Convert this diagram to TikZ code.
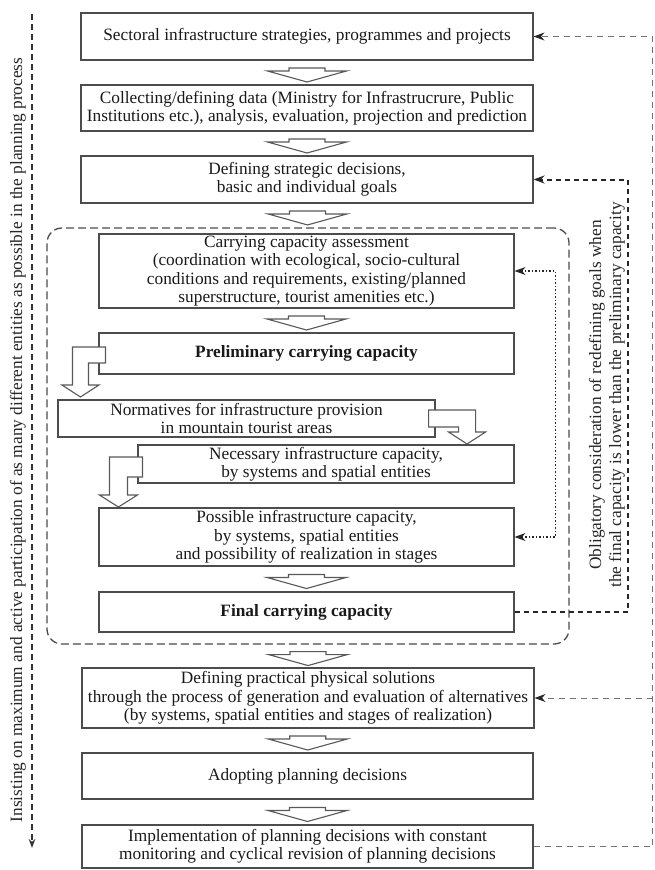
\documentclass[tikz,border=0pt]{standalone}
\usepackage{fontspec}
\setmainfont{Liberation Serif}
\usepackage{tikz}
\usetikzlibrary{positioning,arrows.meta,calc}

\newcommand{\boxfont}{\fontsize{17.3pt}{18.3pt}\selectfont}
\newcommand{\sidefont}{\fontsize{17.3pt}{20pt}\selectfont}

\begin{document}
\begin{tikzpicture}[
    x=1pt,
    y=-1pt,
    >={Stealth[length=11pt,width=8pt,black!85]},
    font=\boxfont,
    pics/downarrow/.style={code={
        \draw[line width=1.1pt, draw=black!65, fill=white, line join=miter]
            (-18,-4.5) -- (18,-4.5) -- (18,-1.5) -- (39.5,-1.5) -- (0,9.5)
            -- (-39.5,-1.5) -- (-18,-1.5) -- cycle;
    }}
]

\tikzstyle{stage}=[
    rectangle,
    draw=black!70,
    line width=1.1pt,
    text=black!90,
    inner sep=0pt,
    align=center,
    minimum width=452pt
]
\tikzstyle{substage}=[stage, minimum width=415pt]
\tikzstyle{elbow}=[draw=black!65, line width=1.1pt, fill=white, line join=miter]
\tikzstyle{zonebox}=[rectangle, draw=black!70, line width=1.3pt, dash pattern=on 8pt off 4pt, rounded corners=15pt, minimum width=522pt, minimum height=416pt]
\tikzstyle{outerfb}=[draw=black!55, line width=1pt, dash pattern=on 6pt off 5pt]
\tikzstyle{thickfb}=[draw=black!85, line width=2pt, dash pattern=on 5pt off 4pt]
\tikzstyle{dotfb}=[draw=black!85, line width=1.2pt, dash pattern=on 1.5pt off 2pt]
\tikzstyle{leftfb}=[draw=black!80, line width=1.2pt, dash pattern=on 6pt off 4pt]

\useasboundingbox (0,0) rectangle (655,870);

\node[zonebox] (zone) at (308,436) {};

\node[stage, minimum height=47pt] (sect) at (307,36.5) {Sectoral infrastructure strategies, programmes and projects};
\node[stage, minimum height=46pt] (coll) at (307,108) {Collecting/defining data (Ministry for Infrastrucrure, Public\\Institutions etc.), analysis, evaluation, projection and prediction};
\node[stage, minimum height=47pt] (strat) at (307,179.5) {Defining strategic decisions,\\basic and individual goals};

\node[substage, minimum height=74pt] (carry) at (306.5,271) {Carrying capacity assessment\\(coordination with ecological, socio-cultural\\conditions and requirements, existing/planned\\superstructure, tourist amenities etc.)};
\node[substage, minimum height=41pt] (prelim) at (306.5,353.5) {\textbf{Preliminary carrying capacity}};
\node[stage, minimum width=377pt, minimum height=37pt] (norm) at (246.5,418.5) {Normatives for infrastructure provision\\in mountain tourist areas};
\node[stage, minimum width=376pt, minimum height=38pt] (need) at (326,464) {Necessary infrastructure capacity,\\by systems and spatial entities};
\node[substage, minimum height=58pt] (poss) at (306.5,537) {Possible infrastructure capacity,\\by systems, spatial entities\\and possibility of realization in stages};
\node[substage, minimum height=40pt] (final) at (306.5,612) {\textbf{Final carrying capacity}};

\node[stage, minimum height=60pt] (prac) at (308,698) {Defining practical physical solutions\\through the process of generation and evaluation of alternatives\\(by systems, spatial entities and stages of realization)};
\node[stage, minimum width=451pt, minimum height=46pt] (adopt) at (307.5,776) {Adopting planning decisions};
\node[stage, minimum width=451pt, minimum height=43pt] (impl) at (307.5,846.5) {Implementation of planning decisions with constant\\monitoring and cyclical revision of planning decisions};

\pic at ($(sect.south)!0.5!(coll.north)$) {downarrow};
\pic at ($(coll.south)!0.5!(strat.north)$) {downarrow};
\pic at ($(strat.south)!0.5!(zone.north)$) {downarrow};
\pic at ($(carry.south)!0.5!(prelim.north)$) {downarrow};
\pic at ($(poss.south)!0.5!(final.north)$) {downarrow};
\pic at ($(zone.south)!0.5!(prac.north)$) {downarrow};
\pic at ($(prac.south)!0.5!(adopt.north)$) {downarrow};
\pic at ($(adopt.south)!0.5!(impl.north)$) {downarrow};

\draw[elbow, shift={(prelim.west)}] (7,-6.5) -- (-26,-6.5) -- (-26,31.5) -- (-36.5,31.5) -- (-18,43.5) -- (0.5,31.5) -- (-10,31.5) -- (-10,9.5) -- (7,9.5) -- cycle;
\draw[elbow, shift={(norm.east)}] (-7,-8.5) -- (40,-8.5) -- (40,13.5) -- (50,13.5) -- (31.5,25.5) -- (13,13.5) -- (23,13.5) -- (23,8.5) -- (-7,8.5) -- cycle;
\draw[elbow, shift={(need.west)}] (5,-7) -- (-28,-7) -- (-28,31) -- (-38,31) -- (-19,43) -- (0,31) -- (-10,31) -- (-10,13) -- (5,13) -- cycle;

\coordinate (rail) at ($(impl.east)+(119,0)$);
\draw[outerfb,->] (impl.east) -- (rail) |- (sect.east);
\draw[outerfb,->] (rail |- prac.east) -- (prac.east);
\draw[thickfb,->] (final.east) -- ++(113,0) |- (strat.east);
\draw[dotfb,<->] (carry.east) -- ++(41,0) |- (poss.east);

\coordinate (ltop) at (32,14);
\coordinate (lbot) at (32,848);
\draw[leftfb,-{Stealth[length=9pt,width=6.5pt]}] (ltop) -- (lbot);

\node[rotate=90, text=black!85] (insist) at (18,440) {Insisting on maximum and active participation of as many different entities as possible in the planning process};
\node[rotate=90, align=center, font=\sidefont, text=black!85] (oblig) at (607,395) {Obligatory consideration of redefining goals when\\the final capacity is lower than the preliminary capacity};

\end{tikzpicture}
\end{document}
